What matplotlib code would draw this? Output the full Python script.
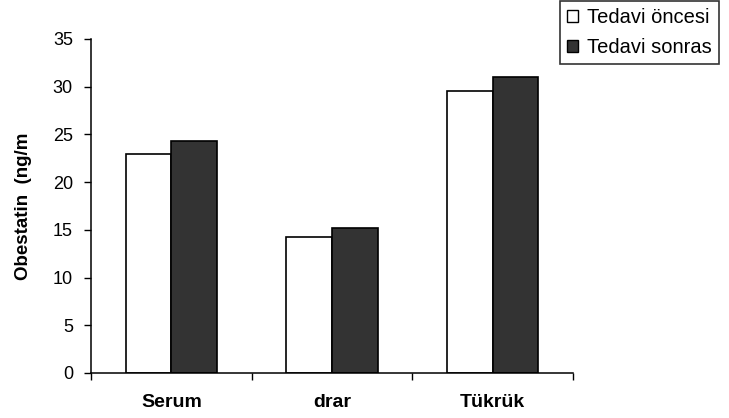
import matplotlib.pyplot as plt
import numpy as np
from matplotlib.patches import Patch

plt.rcParams['font.family'] = ['Liberation Sans', 'DejaVu Sans']

# Data
categories = ['Serum', 'drar', 'Tükrük']
before = [23.0, 14.2, 29.5]
after = [24.3, 15.2, 31.0]
series_names = ['Tedavi öncesi', 'Tedavi sonras']
y_label = 'Obestatin  (ng/m'

fig = plt.figure(figsize=(7.29, 4.18), dpi=100)
ax = fig.add_axes([0.1248, 0.1077, 0.6612, 0.799])

x = np.arange(len(categories))
width = 0.285
ax.bar(x - width / 2, before, width, color='white', edgecolor='black', linewidth=1.2)
ax.bar(x + width / 2, after, width, color='#333333', edgecolor='black', linewidth=1.2)

ax.set_xlim(-0.5, len(categories) - 0.5)
ax.set_ylim(0, 35)
ax.set_yticks(np.arange(0, 36, 5))
ax.set_xticks(np.arange(-0.5, len(categories), 1.0))
ax.set_xticklabels([])
ax.set_xticks(x, minor=True)
ax.set_xticklabels(categories, minor=True, fontweight='bold', fontsize=14)
ax.tick_params(axis='x', which='minor', length=0, pad=15)
ax.tick_params(axis='x', which='major', length=5, width=1, direction='out')
ax.tick_params(axis='y', length=5, width=1, direction='out', labelsize=13, pad=8)

for side in ['top', 'right']:
    ax.spines[side].set_visible(False)
for side in ['left', 'bottom']:
    ax.spines[side].set_linewidth(1.1)

ax.set_ylabel(y_label, fontweight='bold', fontsize=13.5, labelpad=15)

handles = [Patch(facecolor='white', edgecolor='black', linewidth=1.0),
           Patch(facecolor='#333333', edgecolor='black', linewidth=1.0)]
leg = fig.legend(handles, series_names, loc='upper left',
                 bbox_to_anchor=(560 / 729, 0.998), fontsize=14.5,
                 frameon=True, fancybox=False, handlelength=0.55, handleheight=0.55,
                 handletextpad=0.45, borderpad=0.35, labelspacing=0.55,
                 borderaxespad=0)
leg.get_frame().set_edgecolor('black')
leg.get_frame().set_linewidth(1.2)

fig.savefig('out.png', dpi=100)
